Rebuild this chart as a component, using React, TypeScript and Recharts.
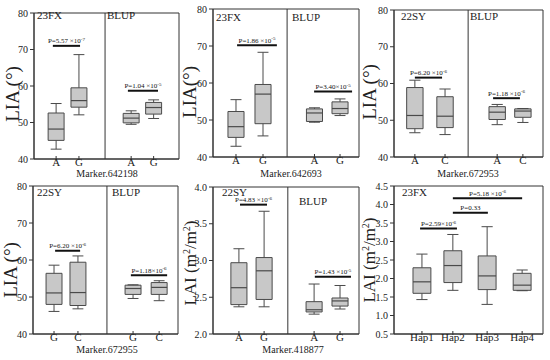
import React from 'react';
import {
  ComposedChart,
  XAxis,
  YAxis,
  ReferenceArea,
  ReferenceLine,
  Scatter,
} from 'recharts';

// box stats: [lower whisker, q1, median, q3, upper whisker]
const p1Labels = ['A', 'G', 'A', 'G'];
const p1Pos = [0.61, 1.24, 2.68, 3.3];
const p1Boxes = [
  [42.7, 45.1, 48.2, 52.6, 55.2],
  [52.1, 54.2, 56.0, 59.5, 68.6],
  [49.5, 49.9, 51.2, 52.5, 53.2],
  [51.1, 52.3, 54.1, 55.5, 56.2],
];
const p1Tests = [
  { x1: 0.52, x2: 1.27, y: 71.0, base: 'P=5.57 ×10', exp: '-7' },
  { x1: 2.59, x2: 3.42, y: 58.7, base: 'P=1.04 ×10', exp: '-5' },
];

const p2Labels = ['A', 'G', 'A', 'G'];
const p2Pos = [0.63, 1.37, 2.78, 3.48];
const p2Boxes = [
  [42.9, 45.3, 48.2, 52.3, 55.5],
  [45.7, 49.0, 57.0, 59.6, 68.3],
  [49.4, 49.6, 51.9, 53.0, 53.3],
  [51.2, 51.7, 53.1, 54.9, 55.7],
];
const p2Tests = [
  { x1: 0.66, x2: 1.75, y: 70.2, base: 'P=1.86 ×10', exp: '-5' },
  { x1: 2.77, x2: 3.81, y: 57.7, base: 'P=3.40×10', exp: '-5' },
];

const p3Labels = ['A', 'C', 'A', 'C'];
const p3Pos = [0.56, 1.37, 2.77, 3.46];
const p3Boxes = [
  [46.6, 47.7, 51.3, 58.9, 60.9],
  [46.1, 48.0, 51.1, 56.4, 58.5],
  [48.8, 50.2, 52.2, 53.7, 54.3],
  [49.4, 50.8, 52.5, 53.1, 53.2],
];
const p3Tests = [
  { x1: 0.56, x2: 1.29, y: 61.6, base: 'P=6.20 ×10', exp: '-6' },
  { x1: 2.66, x2: 3.38, y: 56.0, base: 'P=1.18 ×10', exp: '-6' },
];

const p4Labels = ['G', 'C', 'G', 'C'];
const p4Pos = [0.58, 1.24, 2.76, 3.48];
const p4Boxes = [
  [46.1, 48.0, 51.1, 56.4, 58.6],
  [46.8, 47.7, 51.2, 59.4, 61.1],
  [49.6, 50.7, 52.3, 53.2, 53.3],
  [49.0, 50.7, 52.6, 53.9, 54.4],
];
const p4Tests = [
  { x1: 0.61, x2: 1.3, y: 62.5, base: 'P=6.20 ×10', exp: '-6' },
  { x1: 2.7, x2: 3.7, y: 55.9, base: 'P=1.18×10', exp: '-6' },
];

const p5Labels = ['A', 'G', 'A', 'G'];
const p5Pos = [0.71, 1.4, 2.77, 3.48];
const p5Boxes = [
  [2.37, 2.4, 2.63, 2.97, 3.16],
  [2.37, 2.47, 2.86, 3.04, 3.67],
  [2.27, 2.3, 2.33, 2.44, 2.68],
  [2.34, 2.38, 2.45, 2.49, 2.66],
];
const p5Tests = [
  { x1: 0.74, x2: 1.48, y: 3.76, base: 'P=4.83 ×10', exp: '-6' },
  { x1: 2.79, x2: 3.78, y: 2.78, base: 'P=1.43 ×10', exp: '-5' },
];

const p6Labels = ['Hap1', 'Hap2', 'Hap3', 'Hap4'];
const p6Pos = [0.75, 1.58, 2.5, 3.44];
const p6Boxes = [
  [1.43, 1.6, 1.91, 2.29, 2.66],
  [1.68, 1.89, 2.35, 2.75, 3.19],
  [1.3, 1.7, 2.07, 2.61, 3.4],
  [1.67, 1.68, 1.82, 2.14, 2.23],
];
const p6Tests = [
  { x1: 0.7, x2: 1.69, y: 3.35, base: 'P=2.59×10', exp: '-6' },
  { x1: 1.58, x2: 2.52, y: 3.78, base: 'P=0.33', exp: '' },
  { x1: 1.58, x2: 3.44, y: 4.17, base: 'P=5.18 ×10', exp: '-6' },
];

const liaTicks = [40, 50, 60, 70, 80];
const lai5Ticks = [2.0, 2.5, 3.0, 3.5, 4.0];
const lai6Ticks = [0.5, 1.0, 1.5, 2.0, 2.5, 3.0, 3.5, 4.0, 4.5];

const FONT = '"Liberation Serif", "Times New Roman", serif';
const BOX_FILL = '#c8c8c8';
const BOX_STROKE = '#4a4a4a';
const AXIS = '#333';

interface Panel {
  cell: { x: number; y: number; w: number; h: number };
  plot: { l: number; r: number; t: number; b: number };
  labels: string[];
  pos: number[];
  boxes: number[][];
  tests: { x1: number; x2: number; y: number; base: string; exp: string }[];
  ticks: number[];
  decimals: number;
  divider?: number;
  boxW: number;
  capW: number;
}

const panels: Panel[] = [
  { cell: { x: 0, y: 0, w: 185, h: 180 }, plot: { l: 34, r: 179, t: 13, b: 159 }, labels: p1Labels, pos: p1Pos, boxes: p1Boxes, tests: p1Tests, ticks: liaTicks, decimals: 0, divider: 1.96, boxW: 0.44, capW: 0.3 },
  { cell: { x: 180, y: 0, w: 185, h: 180 }, plot: { l: 213, r: 359, t: 9, b: 157 }, labels: p2Labels, pos: p2Pos, boxes: p2Boxes, tests: p2Tests, ticks: liaTicks, decimals: 0, divider: 2.03, boxW: 0.44, capW: 0.3 },
  { cell: { x: 362, y: 0, w: 188, h: 180 }, plot: { l: 394, r: 543, t: 10, b: 157 }, labels: p3Labels, pos: p3Pos, boxes: p3Boxes, tests: p3Tests, ticks: liaTicks, decimals: 0, divider: 1.99, boxW: 0.44, capW: 0.3 },
  { cell: { x: 0, y: 178, w: 185, h: 182 }, plot: { l: 33, r: 178, t: 186, b: 334 }, labels: p4Labels, pos: p4Pos, boxes: p4Boxes, tests: p4Tests, ticks: liaTicks, decimals: 0, divider: 2.04, boxW: 0.44, capW: 0.3 },
  { cell: { x: 180, y: 178, w: 185, h: 182 }, plot: { l: 213, r: 359, t: 187, b: 334 }, labels: p5Labels, pos: p5Pos, boxes: p5Boxes, tests: p5Tests, ticks: lai5Ticks, decimals: 1, divider: 2.05, boxW: 0.44, capW: 0.3 },
  { cell: { x: 362, y: 178, w: 188, h: 182 }, plot: { l: 394, r: 543, t: 186, b: 334 }, labels: p6Labels, pos: p6Pos, boxes: p6Boxes, tests: p6Tests, ticks: lai6Ticks, decimals: 1, boxW: 0.48, capW: 0.3 },
];

const PText = (props: any) => {
  const { cx, cy, payload } = props;
  if (cx == null || cy == null) return null;
  return (
    <text x={cx} y={cy - 2.5} textAnchor="middle" fontSize={7} fontFamily={FONT} style={{ fill: '#111' }} stroke="none">
      <tspan>{payload.base}</tspan>
      {payload.exp ? (
        <tspan dy={-2.5} fontSize={5}>{payload.exp}</tspan>
      ) : null}
    </text>
  );
};

const XTick = (props: any) => {
  const { x, y, index, labels } = props;
  return (
    <g>
      <line x1={x} x2={x} y1={y - 3} y2={y + 1} stroke={AXIS} />
      <text x={x} y={y + 7} textAnchor="middle" fontSize={11} fontFamily={FONT} fill="#222">
        {labels[index]}
      </text>
    </g>
  );
};

const BoxPanel = ({ p }: { p: Panel }) => {
  const { cell, plot } = p;
  const yMin = p.ticks[0];
  const yMax = p.ticks[p.ticks.length - 1];
  const textData = p.tests.map((t) => ({ x: (t.x1 + t.x2) / 2, y: t.y, base: t.base, exp: t.exp }));
  return (
    <div style={{ position: 'absolute', left: cell.x, top: cell.y }}>
      <ComposedChart
        width={cell.w}
        height={cell.h}
        margin={{ top: plot.t - cell.y, right: cell.x + cell.w - plot.r, left: 0, bottom: 0 }}
      >
        <XAxis
          type="number"
          dataKey="x"
          domain={[0, 4]}
          ticks={p.pos}
          interval={0}
          allowDataOverflow
          height={cell.y + cell.h - plot.b}
          tickSize={0}
          tickMargin={0}
          tickLine={false}
          stroke={AXIS}
          tick={<XTick labels={p.labels} />}
        />
        <YAxis
          type="number"
          dataKey="y"
          domain={[yMin, yMax]}
          ticks={p.ticks}
          interval={0}
          allowDataOverflow
          width={plot.l - cell.x}
          tickSize={4}
          tickMargin={2}
          stroke={AXIS}
          tickFormatter={(v: number) => v.toFixed(p.decimals)}
          tick={{ fontSize: 10, fill: '#222', fontFamily: FONT }}
        />
        <ReferenceArea x1={0} x2={4} y1={yMin} y2={yMax} fill="none" stroke={AXIS} strokeWidth={1} ifOverflow="visible" />
        {p.divider !== undefined && (
          <ReferenceLine x={p.divider} stroke={AXIS} strokeWidth={1} />
        )}
        {p.boxes.map((b, i) => {
          const x = p.pos[i];
          const [lo, q1, med, q3, hi] = b;
          const hw = p.boxW / 2;
          const cw = p.capW / 2;
          return (
            <React.Fragment key={i}>
              <ReferenceLine segment={[{ x, y: lo }, { x, y: q1 }]} stroke={BOX_STROKE} />
              <ReferenceLine segment={[{ x, y: q3 }, { x, y: hi }]} stroke={BOX_STROKE} />
              <ReferenceLine segment={[{ x: x - cw, y: lo }, { x: x + cw, y: lo }]} stroke={BOX_STROKE} />
              <ReferenceLine segment={[{ x: x - cw, y: hi }, { x: x + cw, y: hi }]} stroke={BOX_STROKE} />
              <ReferenceArea x1={x - hw} x2={x + hw} y1={q1} y2={q3} fill={BOX_FILL} fillOpacity={1} stroke={BOX_STROKE} strokeWidth={1} />
              <ReferenceLine segment={[{ x: x - hw, y: med }, { x: x + hw, y: med }]} stroke={BOX_STROKE} strokeWidth={1.2} />
            </React.Fragment>
          );
        })}
        {p.tests.map((t, i) => (
          <ReferenceLine key={'t' + i} segment={[{ x: t.x1, y: t.y }, { x: t.x2, y: t.y }]} stroke="#111" strokeWidth={2} />
        ))}
        <Scatter data={textData} dataKey="y" fill="#111" shape={PText} isAnimationActive={false} />
      </ComposedChart>
    </div>
  );
};

const yLabels = [
  { x: 13, y: 94, text: 'LIA (°)', sup: false },
  { x: 190, y: 92, text: 'LIA(°)', sup: false },
  { x: 370, y: 92, text: 'LIA (°)', sup: false },
  { x: 11, y: 270, text: 'LIA (°)', sup: false },
  { x: 190, y: 263, text: '', sup: true },
  { x: 369, y: 260, text: '', sup: true },
];

const panelTags = [
  { x: 37, y: 19, t: '23FX' }, { x: 107, y: 19, t: 'BLUP' },
  { x: 216, y: 21, t: '23FX' }, { x: 292, y: 21, t: 'BLUP' },
  { x: 401, y: 20, t: '22SY' }, { x: 470, y: 20, t: 'BLUP' },
  { x: 37, y: 196, t: '22SY' }, { x: 112, y: 196, t: 'BLUP' },
  { x: 222, y: 196, t: '22SY' }, { x: 299, y: 205, t: 'BLUP' },
  { x: 402, y: 196, t: '23FX' },
];

const markerTitles = [
  { x: 107, y: 177, t: 'Marker.642198' },
  { x: 291, y: 177, t: 'Marker.642693' },
  { x: 468, y: 177, t: 'Marker.672953' },
  { x: 107, y: 353, t: 'Marker.672955' },
  { x: 293, y: 353, t: 'Marker.418877' },
];

export default function App() {
  return (
    <div style={{ position: 'absolute', left: 0, top: 0, width: 550, height: 360, background: '#fff', fontFamily: FONT }}>
      {panels.map((p, i) => (
        <BoxPanel key={i} p={p} />
      ))}
      <svg width={550} height={360} style={{ position: 'absolute', left: 0, top: 0, pointerEvents: 'none' }}>
        {yLabels.map((l, i) => (
          <text
            key={i}
            transform={`translate(${l.x + 6},${l.y}) rotate(-90)`}
            textAnchor="middle"
            fontSize={l.sup ? 17 : 19}
            fontFamily={FONT}
            fill="#222"
          >
            {l.sup ? (
              <>
                <tspan>LAI (m</tspan>
                <tspan dy={-6} fontSize={10}>2</tspan>
                <tspan dy={6}>/m</tspan>
                <tspan dy={-6} fontSize={10}>2</tspan>
                <tspan dy={6}>)</tspan>
              </>
            ) : (
              l.text
            )}
          </text>
        ))}
        {panelTags.map((t, i) => (
          <text key={i} x={t.x} y={t.y} fontSize={11} fontFamily={FONT} fill="#222">
            {t.t}
          </text>
        ))}
        {markerTitles.map((t, i) => (
          <text key={i} x={t.x} y={t.y} textAnchor="middle" fontSize={10} fontFamily={FONT} fill="#222">
            {t.t}
          </text>
        ))}
      </svg>
    </div>
  );
}
